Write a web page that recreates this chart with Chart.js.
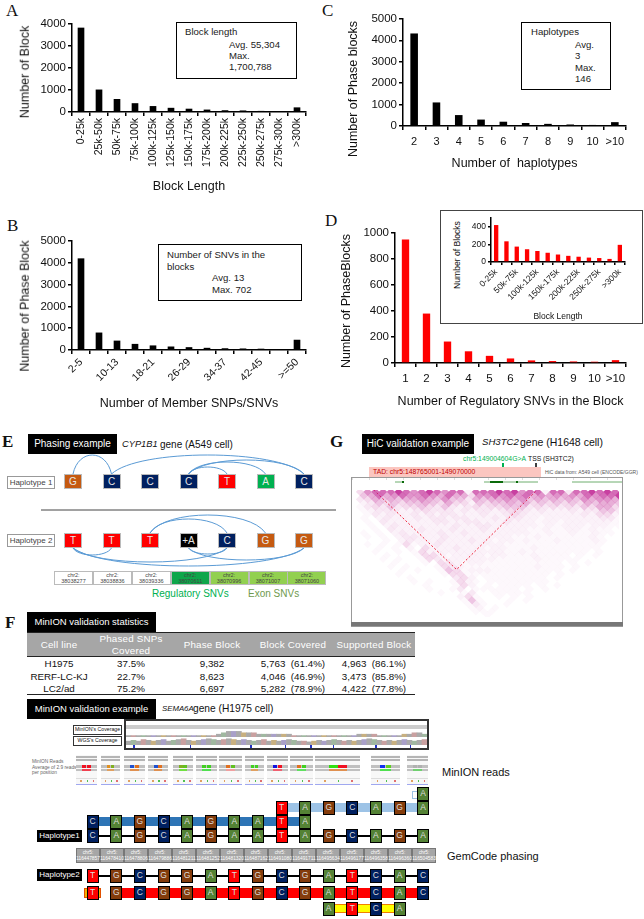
<!DOCTYPE html>
<html>
<head>
<meta charset="utf-8">
<script src="https://cdn.jsdelivr.net/npm/chart.js@4"></script>
<style>
  html, body { margin: 0; padding: 0; background: #fff; }
  #page { position: relative; width: 644px; height: 919px; overflow: hidden; background: #fff;
          font-family: "Liberation Sans", Arial, sans-serif; color: #111; filter: blur(0.45px); }
  #page canvas, #page svg { position: absolute; left: 0; top: 0; }
  .t { position: absolute; white-space: pre; transform: translateY(-50%); line-height: 1; }
  .b { position: absolute; box-sizing: border-box; }
  .c { display: flex; align-items: center; justify-content: center; text-align: center; }
</style>
</head>
<body>
<div id="page">
  <svg id="wires" width="644" height="919"></svg>
</div>
<script>
// panel A
const lengthLabels = ["0-25k","25k-50k","50k-75k","75k-100k","100k-125k","125k-150k","150k-175k","175k-200k","200k-225k","225k-250k","250k-275k","275k-300k",">300k"];
const blockCounts = [3830,1020,590,400,270,190,150,110,80,70,50,30,210];
// panel B
const snvLabels = ["2-5","6-9","10-13","14-17","18-21","22-25","26-29","30-33","34-37","38-41","42-45","46-49",">=50"];
const snvCounts = [4200,800,430,280,210,160,130,100,80,70,60,40,470];
// panel C
const haploLabels = ["2","3","4","5","6","7","8","9","10",">10"];
const haploCounts = [4320,1100,510,300,200,140,100,70,50,180];
// panel D
const regLabels = ["1","2","3","4","5","6","7","8","9","10",">10"];
const regCounts = [950,380,165,90,55,35,20,15,12,10,22];
const insetCounts = [420,235,175,145,125,105,85,70,60,50,45,35,195];

// panel E
const hap1Bases = ["G","C","C","C","T","A","C"];
const hap2Bases = ["T","T","T","+A","C","G","G"];
// arcs: from base, to base, rise in px
const hap1Arcs = [[0,1,19],[1,6,19],[3,4,7],[3,5,12],[3,6,14]];
const hap2ArcsTop = [[2,4,14],[2,5,18]];
const hap2ArcsBottom = [[0,1,7],[0,4,14],[0,6,18],[3,4,6],[3,6,12]];
const eLoci = ["38038277","38038836","38039336","38070611","38070996","38071007","38071060"];
const eLociColors = ["#fff","#fff","#fff","#0ea64a","#92d050","#92d050","#92d050"];

// panel F table
const tableHead = ["Cell line","Phased SNPs\nCovered","Phase Block","Block Covered","Supported Block"];
const tableRows = [
  ["H1975","37.5%","9,382","5,763  (61.4%)","4,963  (86.1%)"],
  ["RERF-LC-KJ","22.7%","8,623","4,046  (46.9%)","3,473  (85.8%)"],
  ["LC2/ad","75.2%","6,697","5,282  (78.9%)","4,422  (77.8%)"]
];
// panel F coverage tracks
const covMinion = [1,1,1,1,1,1,1,1,1,1,1,1,1,1,1,1,1,1,2,3,4,4,4,3,3,3,2,2,2,2,2,2,2,1,1,1,1,1,1,1,1,1,1,1,1,1,2,2,2,2,1,1,1,1,1,2,2,3,3,2];
const covWgs = [5,6,5,7,6,5,6,7,5,6,7,8,6,5,6,7,8,7,6,7,8,7,6,7,6,5,6,7,5,6,5,6,7,6,5,5,4,5,6,5,6,7,6,5,6,5,6,7,8,7,6,5,6,5,6,7,6,5,6,7];
// MinION read snapshots: read colours, top band left/right then second band
const snapLeft = [76,101,124,148,173,196,219,245,267,290,315,371,407];
const snapWidth = [21,19,21,20,20,21,23,19,21,23,45,29,21];
const snapReads = [
  ["#f01020","#f01020","#f04050"],["#e09020","#80b020","#e0a060"],["#2050d0","#e07020","#e09050"],
  ["#2050d0","#e07020","#e09050"],["#80b020","#60c020","#70e040"],["#40d020","#40d020","#50e050"],
  ["#e07020","#60c020","#f0a0a0"],["#40d020","#40d020","#e0a060"],["#1010e0","#f01020","#f06070"],
  ["#e07020","#40d020","#60e060"],["#30e010","#f01020","#e09050"],["#1030f0","#60d020","#50e050"],
  ["#b0b0b0","#b0b0b0","#70d070"]
];
// panel F phasing rows, "." means no base in that column
const readTop     = "..............A";
const readLight   = "........TAGCAGA";
const readDark    = "CAGCAGAATA.....";
const hapOneBases = "CAGCAGAATAGCAGA";
const fLoci = ["116447857","116478410","116478806","116479886","116481211","116481252","116481320","116487162","116491080","116491711","116495634","116496177","116496358","116496360","116504583"];
const hapTwoBases = "TGCGGATGCGATCAC";
const readRed     = "TGCGGATGCGATCAC";
const readYellow  = "..........ATCA.";

// panel G, contact strength 0-9 per diamond bin, read by eye from the map
const hicRows = [
"4788898789878828889897882883889898",
"5686787787686647787878676767687889",
"3465656676575536566767565656576776",
"2354545565464425455656454545465665",
"1343534454353234344555343434354664",
"1233322343332323323443232223233553",
"0132322323233222322343222222232442",
"1023222323323322232332212222222331",
"0103222222332233222322212212222221",
"0102322222223223322222212122212211",
"0010322232223222322222112112212110",
"1010232222322322222222112112112110",
"0101023322232222222211121111112100",
"0001023222322232212212111211112100",
"0101014122322222222111111111111100",
"0010102042223222122111211111111000",
"0010010142222222222112111111110100",
"0001000144212222122111211110101000",
"0001010014322222221111121111100000",
"0000100010432122111111111101010000",
"0000101000143211111111121110100000",
"0000010100154122211111111101000000",
"0000010000014411111111111010000000",
"0000001000003420111111110100000000",
"0000000101001421011111111000000000",
"0000000010001420101111010100000000",
"0000000001001301111110101000000000",
"0000000000100130011111000000000000",
"0000000000000241001010100000000000",
"0000000000000151000101000000000000",
"0000000000000013100100000000000000",
"0000000000000012010000000000000000",
"0000000000000001110000000000000000",
"0000000000000000100000000000000000"
];
const hicAlpha = [0,0.03,0.06,0.1,0.16,0.26,0.36,0.48,0.65,0.85];
const tadX = [2.3,13,23.4];
const tadY = [0,21.3,0];

const BASE_COLORS = { G:"#c55a11", C:"#002060", T:"#ff0000", A:"#00b050", "+A":"#000" };
const F_COLORS = { G:"#843c0c", C:"#002060", T:"#ff0000", A:"#548235" };
const page = document.getElementById("page");
const wires = document.getElementById("wires");

function text(x, y, str, size, extra) {
    const el = document.createElement("div");
    el.className = "t";
    el.textContent = str;
    el.style.left = x + "px";
    el.style.top = y + "px";
    el.style.fontSize = size + "px";
    if (extra) Object.assign(el.style, extra);
    page.appendChild(el);
    return el;
}

function box(x, y, w, h, extra, label, size) {
    const el = document.createElement("div");
    el.className = "b c";
    el.style.left = x + "px";
    el.style.top = y + "px";
    el.style.width = w + "px";
    el.style.height = h + "px";
    if (extra) Object.assign(el.style, extra);
    if (label) {
        el.textContent = label;
        el.style.fontSize = size + "px";
        el.style.whiteSpace = "pre";
        el.style.lineHeight = "1.15";
    }
    page.appendChild(el);
    return el;
}

function wire(d, color, width, dash) {
    const p = document.createElementNS("http://www.w3.org/2000/svg", "path");
    p.setAttribute("d", d);
    p.setAttribute("fill", "none");
    p.setAttribute("stroke", color);
    p.setAttribute("stroke-width", width);
    if (dash) p.setAttribute("stroke-dasharray", dash);
    wires.appendChild(p);
}

// y titles sit lower than the plot middle in this figure, chart titles can't do that
function yTitle(x, y, str, size, z) {
    text(x, y, str, size, { transform: "translate(-50%,-50%) rotate(-90deg)", zIndex: z || 1 });
}

// keeps the plot area where the panel wants it, whatever the tick text measures
function barPanel(o) {
    const [left, top, right, bottom] = o.plot;
    const cv = document.createElement("canvas");
    cv.style.left = (left - o.padL) + "px";
    cv.style.top = (top - 8) + "px";
    cv.style.zIndex = o.z || 1;
    cv.width = right - left + o.padL + 10;
    cv.height = bottom - top + 8 + o.padB;
    page.appendChild(cv);
    return new Chart(cv, {
        type: "bar",
        data: { labels: o.labels, datasets: [{ data: o.values, backgroundColor: o.color, barPercentage: o.barPct, categoryPercentage: 1 }] },
        options: {
            responsive: false,
            animation: false,
            layout: { padding: { top: 8, right: 10, left: 0, bottom: 0 } },
            plugins: { legend: { display: false }, tooltip: { enabled: false } },
            scales: {
                x: {
                    afterFit: s => { s.height = o.padB; },
                    border: { color: "#000", width: 1.5 },
                    grid: { drawOnChartArea: false, color: "#000", lineWidth: 1.5, tickLength: o.tickLen || 4 },
                    ticks: {
                        color: "#111", autoSkip: false, padding: o.xPad || 2,
                        minRotation: o.rotation || 0, maxRotation: o.rotation || 0,
                        font: { family: "Liberation Sans", size: o.xFont },
                        callback: function (v, i) { return (o.every && i % o.every) ? "" : this.getLabelForValue(v); }
                    },
                    title: { display: true, text: o.xTitle, color: "#111", padding: 0, font: { family: "Liberation Sans", size: o.titleFont } }
                },
                y: {
                    min: 0, max: o.max,
                    afterFit: s => { s.width = o.padL; },
                    border: { color: "#000", width: 1.5 },
                    grid: { drawOnChartArea: false, color: "#000", lineWidth: 1.5, tickLength: o.tickLen || 4 },
                    ticks: { color: "#111", stepSize: o.step, padding: 2, font: { family: "Liberation Sans", size: o.yFont }, callback: v => String(v) }
                }
            }
        }
    });
}

// ---- panel letters
[["A",6,10,"normal"],["C",322,10,"normal"],["B",7,225,"normal"],["D",325,220,"normal"],["E",2,441,"bold"],["G",330,441,"bold"],["F",5,622,"bold"]].forEach(l =>
    text(l[1], l[2], l[0], 17, { fontFamily: "Liberation Serif", fontWeight: l[3], color: "#111" }));

// ---- bar panels
barPanel({ plot:[72,23,306,112], padL:55, padB:82, labels:lengthLabels, values:blockCounts, color:"#000", barPct:0.37, max:4000, step:1000,
    rotation:90, xFont:10.5, yFont:11.5, titleFont:12.5, xTitle:"Block Length" });
yTitle(25, 72, "Number of Block", 12.5);
barPanel({ plot:[72,240,306,350], padL:55, padB:61, labels:snvLabels, values:snvCounts, color:"#000", barPct:0.37, max:5000, step:1000, every:2,
    rotation:45, xFont:10.5, yFont:11.5, titleFont:12.5, xTitle:"Number of Member SNPs/SNVs" });
yTitle(25, 306, "Number of Phase Block", 12.5);
barPanel({ plot:[403,18,626,126], padL:45, padB:45, labels:haploLabels, values:haploCounts, color:"#000", barPct:0.34, max:5000, step:1000,
    xFont:11, xPad:5, yFont:11.5, titleFont:12.5, xTitle:"Number of  haplotypes" });
yTitle(353, 89, "Number of Phase blocks", 12.5);
barPanel({ plot:[395,232,626,363], padL:40, padB:46, labels:regLabels, values:regCounts, color:"#ff0000", barPct:0.35, max:1000, step:200,
    xFont:11.5, xPad:5, yFont:11.5, titleFont:12.5, xTitle:"Number of Regulatory SNVs in the Block" });
yTitle(346, 301, "Number of PhaseBlocks", 12.5);

box(440, 210, 203, 114, { border:"1.5px solid #444", background:"#fff", zIndex:2 });
barPanel({ z:3, plot:[491,218,625,262], padL:25, padB:60, labels:lengthLabels, values:insetCounts, color:"#ff0000", barPct:0.42, max:500, step:100, every:2, tickLen:3,
    rotation:45, xFont:8.5, yFont:8.5, titleFont:8.5, xTitle:"Block Length" });
yTitle(457, 255, "Number of Blocks", 8.6, 4);

// ---- note boxes
const note = { border:"1.5px solid #000", background:"#fff", zIndex:2 };
box(176, 22, 121, 57, note);
box(158, 244, 144, 57, note);
box(521, 22, 90, 68, note);
[[185,32,"Block length"],[229,45,"Avg. 55,304"],[229,56,"Max."],[229,67,"1,700,788"],
 [167,255,"Number of SNVs in the"],[167,267,"blocks"],[212,278,"Avg. 13"],[212,290,"Max. 702"],
 [531,32,"Haplotypes"],[575,45,"Avg."],[575,56,"3"],[575,68,"Max."],[575,79,"146"]
].forEach(n => text(n[0], n[1], n[2], 9.6, { zIndex:3, color:"#222" }));

// ---- panel E
const black = { background:"#000", color:"#fff" };
box(28, 434, 89, 20, black, "Phasing example", 10);
text(122, 445, "CYP1B1", 9.3, { fontStyle:"italic" });
text(160, 445, "gene (A549 cell)", 10);
box(7, 476, 48, 13, { border:"1px solid #999", color:"#444" }, "Haplotype 1", 8);
box(7, 534, 48, 13, { border:"1px solid #999", color:"#444" }, "Haplotype 2", 8);
const eStart = 64, eStep = 38.5, eWide = 18;
const eMid = i => eStart + i * eStep + eWide / 2;
function arc(a, y, dir) {
    const x0 = eMid(a[0]), x1 = eMid(a[1]), c = a[2] * 4 / 3 * dir, d = (x1 - x0) * 0.14;
    wire(`M${x0} ${y} C${x0 + d} ${y + c} ${x1 - d} ${y + c} ${x1} ${y}`, "#5b9bd5", 1);
}
hap1Arcs.forEach(a => arc(a, 474, -1));
hap2ArcsTop.forEach(a => arc(a, 533, -1));
hap2ArcsBottom.forEach(a => arc(a, 548, 1));
hap1Bases.forEach((b, i) => box(eStart + i * eStep, 474, eWide, 15, { background:BASE_COLORS[b], color:"#e8e8e8", border:"1px solid #bbb" }, b, 10));
hap2Bases.forEach((b, i) => box(eStart + i * eStep, 533, eWide, 15, { background:BASE_COLORS[b], color:"#e8e8e8", border:"1px solid #bbb" }, b, 10));
wire("M41 510 H336", "#444", 1);
eLoci.forEach((pos, i) => box(54 + i * 38.9, 571, 39, 14, { background:eLociColors[i], border:"1px solid #bbb", color:"#444" }, "chr2:\n" + pos, 5.5));
text(152, 594, "Regulatory SNVs", 10, { color:"#00b050" });
text(248, 594, "Exon SNVs", 10, { color:"#6f9a4e" });

// ---- panel G
box(362, 434, 112, 20, black, "HiC validation example", 10);
text(482, 442, "SH3TC2", 9.6, { fontStyle:"italic" });
text(520, 442, "gene (H1648 cell)", 10.5);
text(463, 459, "chr5:149004604G>A", 6.8, { color:"#00b050" });
text(528, 459, "TSS (SH3TC2)", 6.8);
box(369, 467, 172, 10, { background:"#fbc6c0" });
text(373, 472, "TAD: chr5:148765001-149070000", 6.8, { color:"#c00000" });
text(545, 472, "HiC data from: A549 cell (ENCODE/GGR)", 5, { color:"#555" });
box(351, 477, 272, 150, { border:"1px solid #999" });
wire("M503 463 V474 M499 471 L503 476 L507 471", "#00b050", 2);
wire("M536 463 V474 M533 471 L536 476 L539 471", "#000", 1.5);
// gene models and ruler over the map
wire("M352 479 H622", "#bbb", 1, "1 16");
wire("M395 482 H404 M484 482 H538 M572 482 H622", "#6fae6f", 1);
wire("M490 482 H503 M516 482 H518 M402 482 H404", "#0a6a0a", 2);
box(351, 622, 272, 4, { background:"#777" });

const hicPts = hicAlpha.map(() => []);
hicRows.forEach((row, r) => {
    row.split("").forEach((d, c) => {
        if (d !== "0") hicPts[+d].push({ x: c + 0.5 + (r % 2 ? 0.5 : 0), y: r + 0.5 });
    });
});
const hicDatasets = hicPts.map((pts, d) => ({
    data: pts, pointStyle: "rectRot", pointRadius: 4, pointBorderWidth: 0,
    backgroundColor: `rgba(190,30,145,${hicAlpha[d]})`
})).filter(ds => ds.data.length);
hicDatasets.push({
    type: "line", data: tadX.map((x, i) => ({ x, y: tadY[i] })),
    borderColor: "#f02030", borderWidth: 1, borderDash: [2, 2], pointRadius: 0, fill: false
});
const hicCanvas = document.createElement("canvas");
hicCanvas.width = 271;
hicCanvas.height = 135;
hicCanvas.style.left = "352px";
hicCanvas.style.top = "486px";
page.appendChild(hicCanvas);
new Chart(hicCanvas, {
    type: "scatter",
    data: { datasets: hicDatasets },
    options: {
        responsive: false, animation: false,
        plugins: { legend: { display: false }, tooltip: { enabled: false } },
        scales: {
            x: { type: "linear", min: 0, max: 34, display: false },
            y: { type: "linear", min: 0, max: 34, reverse: true, display: false }
        }
    }
});

// ---- panel F table
box(27, 612, 129, 20, black, "MinION validation statistics", 9.5);
box(27, 632, 388, 25, { background:"#a6a6a6", borderTop:"1.5px solid #222", borderBottom:"1.5px solid #222" });
const colMid = [59, 131, 212, 293, 374];
tableHead.forEach((h, i) => {
    const el = box(colMid[i] - 40, 632, 80, 25, { color:"#fff" }, h, 9.8);
    el.style.letterSpacing = "0.2px";
});
tableRows.forEach((row, r) => row.forEach((cell, i) =>
    box(colMid[i] - 45, 658 + r * 12.5, 90, 12, {}, cell, 9.8)));
box(27, 693.5, 388, 1.5, { background:"#222" });
box(27, 699, 129, 20, black, "MinION validation example", 9.5);
text(162, 709, "SEMA6A", 7.8, { fontStyle:"italic" });
text(193, 709, "gene (H1975 cell)", 10.2);

// ---- coverage snapshot
box(73, 725, 49, 9.5, { border:"1px solid #333" }, "MinION's Coverage", 5.2);
box(73, 736, 49, 10, { border:"1px solid #333" }, "WGS's Coverage", 5.2);
box(124, 719, 305, 31, { border:"2px solid #333", background:"#fff" });
box(126, 725, 301, 4, { background:"#ccc" });
function coverage(values, top, height, max, colors) {
    const cv = document.createElement("canvas");
    cv.width = 301;
    cv.height = height;
    cv.style.left = "126px";
    cv.style.top = top + "px";
    page.appendChild(cv);
    new Chart(cv, {
        type: "bar",
        data: { labels: values.map((v, i) => i), datasets: [{ data: values, backgroundColor: colors, barPercentage: 1, categoryPercentage: 1 }] },
        options: {
            responsive: false, animation: false,
            plugins: { legend: { display: false }, tooltip: { enabled: false } },
            scales: { x: { display: false }, y: { display: false, min: 0, max: max } }
        }
    });
}
const speckle = ["#aaa","#c9a0a0","#aaa","#a0b8a0","#aaa","#a9a0c8","#aaa","#c8b080"];
coverage(covMinion, 730, 7, 5, covMinion.map((v, i) => speckle[i % speckle.length]));
coverage(covWgs, 738, 7, 9, covWgs.map((v, i) => speckle[(i * 3) % speckle.length]));
wire("M126 746.5 H427", "#7080e0", 1);
[[133,2],[190,1],[250,2],[285,1],[310,2],[333,1],[375,2],[410,1]].forEach(m => box(m[0], 745, m[1], 3, { background:"#2030c0" }));

// ---- MinION reads snapshots
["MinION Reads","Average of 2.9 reads","per position"].forEach((s, i) => text(32, 762 + i * 5.5, s, 4.8, { color:"#666" }));
text(442, 772, "MinION reads", 11);
snapLeft.forEach((x, i) => {
    const w = snapWidth[i], r = snapReads[i];
    box(x, 755, w, 30, { background:"#f8f8f8" });
    box(x, 756, w, 2, { background:"#b5b5b5" });
    box(x, 759, w, 1.5, { background:"#b5b5b5" });
    box(x, 765, w, 2.5, { background:"#c0c0c0" });
    box(x, 769, w, 2, { background:"#c0c0c0" });
    box(x + w * 0.3, 765, w * 0.2, 2.5, { background:r[0] });
    box(x + w * 0.5, 765, w * 0.2, 2.5, { background:r[1] });
    box(x + w * 0.3, 769, w * 0.4, 2, { background:r[2] });
    box(x, 778, w, 1, { background:"#ddd" });
    box(x + w * 0.2, 780, 1.5, 2, { background:"#e0a060" });
    box(x + w * 0.5, 780, 1.5, 2, { background:"#50c050" });
    box(x + w * 0.8, 780, 1.5, 2, { background:"#e07070" });
    box(x, 784, w, 1, { background:"#a0a8f0" });
});

// ---- phased tracks
const fMid = i => 92.7 + i * 23.6;
const fWide = 12, fTall = 14;
function baseRow(seq, y) {
    seq.split("").forEach((b, i) => {
        if (b === ".") return;
        box(fMid(i) - fWide / 2, y - fTall / 2, fWide, fTall, { background:F_COLORS[b], color:"#ddd", border:"1.3px solid #000" }, b, 8.5);
    });
}
box(412, 791, 6, 8, { border:"1px solid #9dc3e6" });
box(fMid(8), 803, fMid(14) - fMid(8), 9, { background:"#9dc3e6" });
box(fMid(0), 817, fMid(9) - fMid(0), 9, { background:"#2e75b6" });
box(fMid(0), 835, fMid(14) - fMid(0), 1.8, { background:"#000" });
box(fMid(0), 875, fMid(14) - fMid(0), 1.8, { background:"#000" });
box(fMid(1), 888, fMid(14) - fMid(1), 10, { background:"#ff0000" });
box(84, 888, 17, 10, { background:"#f5b000", border:"1px solid #e05000" });
box(fMid(10), 904, fMid(13) - fMid(10), 9, { background:"#ffff00", borderTop:"1px solid #f08000", borderBottom:"1px solid #f08000" });
baseRow(readTop, 794);
baseRow(readLight, 808);
baseRow(readDark, 822);
baseRow(hapOneBases, 836);
baseRow(hapTwoBases, 876);
baseRow(readRed, 893);
baseRow(readYellow, 909);
box(37, 830, 45, 12, black, "Haplotype1", 8);
box(37, 869, 45, 12, black, "Haplotype2", 8);
fLoci.forEach((pos, i) => box(76 + i * 24, 848, 24, 15, { background:"#a6a6a6", border:"1px solid #777", color:"#fff" }, "chr5:\n" + pos, 4.8));
text(447, 856, "GemCode phasing", 11);
</script>
</body>
</html>
